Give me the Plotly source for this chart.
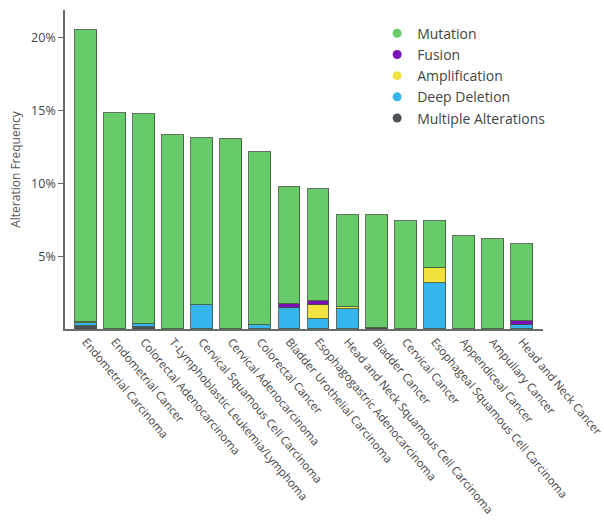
import plotly.graph_objects as go

categories = [
    "Endometrial Carcinoma",
    "Endometrial Cancer",
    "Colorectal Adenocarcinoma",
    "T-Lymphoblastic Leukemia/Lymphoma",
    "Cervical Squamous Cell Carcinoma",
    "Cervical Adenocarcinoma",
    "Colorectal Cancer",
    "Bladder Urothelial Carcinoma",
    "Esophagogastric Adenocarcinoma",
    "Head and Neck Squamous Cell Carcinoma",
    "Bladder Cancer",
    "Cervical Cancer",
    "Esophageal Squamous Cell Carcinoma",
    "Appendiceal Cancer",
    "Ampullary Cancer",
    "Head and Neck Cancer",
]

# alteration frequency (%) per cancer type, stacked bottom -> top
multiple_alterations = [0.18, 0, 0.15, 0, 0, 0, 0, 0, 0, 0, 0.06, 0, 0, 0, 0, 0]
deep_deletion = [0.20, 0, 0.20, 0, 1.64, 0, 0.30, 1.46, 0.68, 1.37, 0, 0, 3.17, 0, 0, 0.25]
amplification = [0.12, 0, 0, 0, 0, 0, 0, 0, 0.98, 0.16, 0, 0, 1.03, 0, 0, 0]
fusion = [0, 0, 0, 0, 0, 0, 0, 0.27, 0.23, 0, 0, 0, 0, 0, 0, 0.27]
mutation = [20.00, 14.86, 14.38, 13.29, 11.49, 13.01, 11.84, 8.00, 7.72, 6.28,
            7.75, 7.40, 3.20, 6.37, 6.18, 5.35]

y_ticks = [5, 10, 15, 20]
y_tick_text = ["5%", "10%", "15%", "20%"]

colors = {
    "Mutation": "#68CB6A",
    "Fusion": "#7A12B8",
    "Amplification": "#F3E23E",
    "Deep Deletion": "#36B4EE",
    "Multiple Alterations": "#4F5357",
}

stack = [
    ("Multiple Alterations", multiple_alterations),
    ("Deep Deletion", deep_deletion),
    ("Amplification", amplification),
    ("Fusion", fusion),
    ("Mutation", mutation),
]

fig = go.Figure()
for name, vals in stack:
    fig.add_trace(go.Bar(
        x=categories, y=vals, name=name, showlegend=False,
        width=0.75,
        marker=dict(color=colors[name], line=dict(color="rgba(60,80,60,0.8)", width=1)),
    ))

# legend entries drawn as circles
for name in ["Mutation", "Fusion", "Amplification", "Deep Deletion", "Multiple Alterations"]:
    fig.add_trace(go.Scatter(
        x=[None], y=[None], mode="markers", name=name,
        marker=dict(color=colors[name], size=9, symbol="circle"),
    ))

font_family = "Open Sans, Noto Sans, sans-serif"

fig.update_layout(
    width=604, height=527,
    barmode="stack",
    bargap=0,
    plot_bgcolor="white", paper_bgcolor="white",
    margin=dict(l=65, r=61, t=10, b=198),
    font=dict(family=font_family, color="#444444"),
    showlegend=True,
    legend=dict(
        x=0.653, y=0.976, xanchor="left", yanchor="top",
        traceorder="normal",
        font=dict(size=14, color="#444444", family=font_family),
        bgcolor="rgba(0,0,0,0)", tracegroupgap=0,
        itemwidth=30,
    ),
)

fig.update_xaxes(
    type="category",
    range=[-0.72, 15.72],
    automargin=False,
    showline=True, linecolor="#6a6a6a", linewidth=1.5,
    ticks="", showgrid=False, zeroline=False,
    tickangle=50,
    tickfont=dict(size=11.5, color="#444444", family=font_family),
)

fig.update_yaxes(
    range=[0, 21.9],
    automargin=False,
    tickvals=y_ticks, ticktext=y_tick_text,
    showline=True, linecolor="#6a6a6a", linewidth=1.5,
    ticks="outside", ticklen=5, tickcolor="#6a6a6a", tickwidth=1.2,
    showgrid=False, zeroline=False,
    tickfont=dict(size=12.5, color="#444444", family=font_family),
    title=dict(text="Alteration Frequency", standoff=8,
               font=dict(size=12, color="#555555", family=font_family)),
)

fig.write_html("out.html")
